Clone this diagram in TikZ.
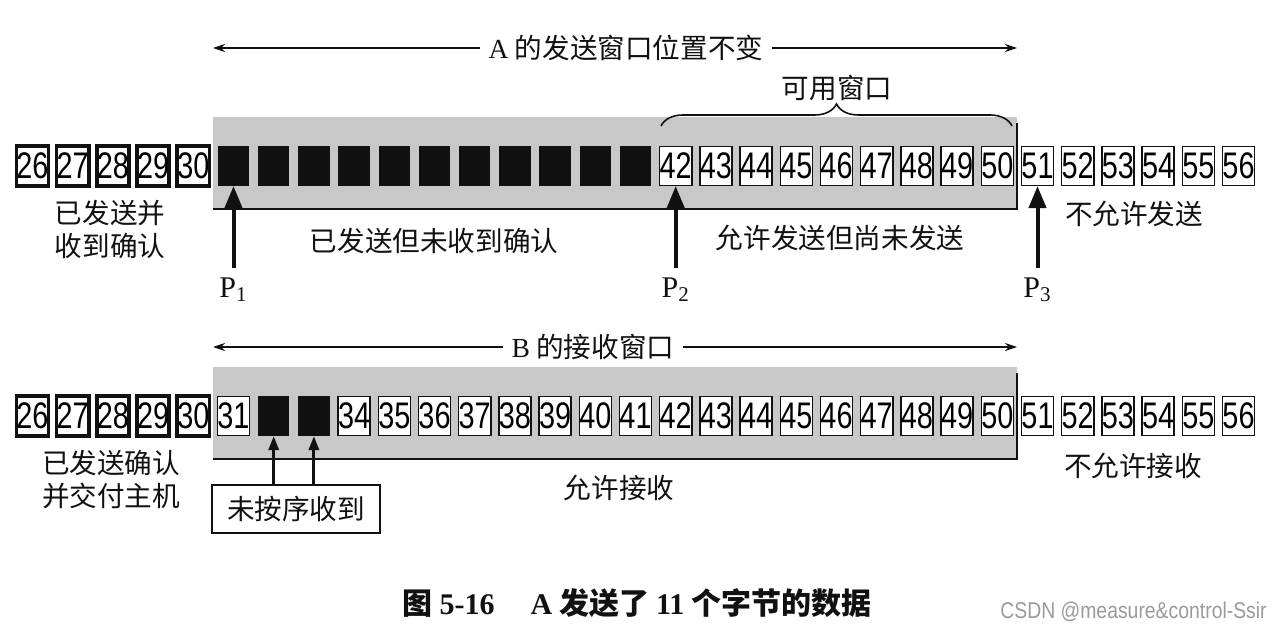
\documentclass[tikz,border=0pt]{standalone}
\usepackage{fontspec}
\setmainfont{Noto Sans CJK SC}
\newfontfamily\numfont[FakeStretch=0.78]{Liberation Sans}
\newfontfamily\serfont{Liberation Serif}
\newfontfamily\markfont[FakeStretch=0.85]{Liberation Sans}
\usetikzlibrary{arrows.meta,positioning,decorations.pathreplacing}
\definecolor{ink}{HTML}{111111}
\definecolor{bandcol}{HTML}{C8C8C8}
\definecolor{markcol}{HTML}{9A9A9A}

\begin{document}
\begin{tikzpicture}[x=0.5pt, y=-0.5pt, >=Stealth,
  cell/.style={draw=ink, fill=white, line width=0.75pt, minimum width=15pt,
    minimum height=19.3pt, inner sep=0pt, font=\numfont\fontsize{18.5}{18.5}\selectfont},
  donecell/.style={cell, line width=1.8pt, minimum width=15.7pt, minimum height=20.2pt},
  sentcell/.style={cell, fill=ink},
  lbl/.style={font=\fontsize{13.8}{16.5}\selectfont, text=ink, align=center, inner sep=0pt},
  ptr/.style={ink, line width=2pt, -{Triangle[length=11pt, width=8.5pt]}},
  smallptr/.style={ink, line width=1.5pt, -{Triangle[length=7pt, width=5pt]}},
  span/.style={ink, line width=0.6pt, -{Stealth[length=6pt, width=4pt]}}]

\useasboundingbox (0,0) rectangle (1280,631);

\def\xo{32.5}
\def\dx{40.2}

% ---- shaded windows -----------------------------------------------------
\fill[bandcol] (213,117) rectangle (1017,209);
\draw[ink, line width=1pt] (213,209) -- (1017,209) -- (1017,123);
\fill[bandcol] (213,367) rectangle (1017,459);
\draw[ink, line width=1pt] (213,459) -- (1017,459) -- (1017,373);

% ---- sender A -----------------------------------------------------------
\foreach \n in {26,...,30}
  \node[donecell] (t\n) at ({\xo+(\n-26)*\dx},166) {\n};
\foreach \n in {31,...,41}
  \node[sentcell] (t\n) at ({\xo+(\n-26)*\dx},166) {};
\foreach \n in {42,...,56}
  \node[cell] (t\n) at ({\xo+(\n-26)*\dx},166) {\n};

\node[lbl, fill=white, inner xsep=4pt] (sendwin) at (626,48)
  {{\serfont A} 的发送窗口位置不变};
\coordinate (swL) at (213,48);
\coordinate (swR) at (1017,48);
\draw[span] (sendwin) -- (swL);
\draw[span] (sendwin) -- (swR);

\draw[ink, line width=0.8pt, decorate, decoration={brace, amplitude=11pt}]
  (661,126) -- (1012,126);
\node[lbl] (avail) at (837,88) {可用窗口};

\node[lbl] (acked) at (110,229) {已发送并\\收到确认};
\node[lbl] (inflight) at (434,241) {已发送但未收到确认};
\node[lbl] (usable) at (840,238) {允许发送但尚未发送};
\node[lbl] (nosend) at (1134,214) {不允许发送};

\node[lbl, font=\fontsize{15}{16}\selectfont] (p1) at ({\xo+5*\dx},290) {\serfont P\textsubscript{1}};
\node[lbl, font=\fontsize{15}{16}\selectfont] (p2) at ({\xo+16*\dx},290) {\serfont P\textsubscript{2}};
\node[lbl, font=\fontsize{15}{16}\selectfont] (p3) at ({\xo+25*\dx},290) {\serfont P\textsubscript{3}};
\draw[ptr, shorten <=5pt] (p1) -- (t31);
\draw[ptr, shorten <=5pt] (p2) -- (t42);
\draw[ptr, shorten <=5pt] (p3) -- (t51);

% ---- receiver B ---------------------------------------------------------
\foreach \n in {26,...,30}
  \node[donecell] (b\n) at ({\xo+(\n-26)*\dx},416) {\n};
\node[cell] (b31) at ({\xo+5*\dx},416) {31};
\foreach \n in {32,33}
  \node[sentcell] (b\n) at ({\xo+(\n-26)*\dx},416) {};
\foreach \n in {34,...,56}
  \node[cell] (b\n) at ({\xo+(\n-26)*\dx},416) {\n};

\node[lbl, fill=white, inner xsep=4pt] (recvwin) at (593,347)
  {{\serfont B} 的接收窗口};
\coordinate (rwL) at (213,347);
\coordinate (rwR) at (1017,347);
\draw[span] (recvwin) -- (rwL);
\draw[span] (recvwin) -- (rwR);

\node[lbl] (deliv) at (111,480) {已发送确认\\并交付主机};
\node[lbl] (accept) at (619,488) {允许接收};
\node[lbl] (norecv) at (1133,466) {不允许接收};

\node[lbl, draw=ink, line width=0.8pt, minimum width=84pt, minimum height=24pt]
  (ooo) at (296,509) {未按序收到};
\draw[smallptr] (ooo.north -| b32) -- (b32.south);
\draw[smallptr] (ooo.north -| b33) -- (b33.south);

% ---- caption ------------------------------------------------------------
\node[lbl, font=\fontsize{15}{16}\selectfont\bfseries] (caption) at (637,603)
  {图 {\serfont 5-16}\hspace{1.2em}{\serfont A} 发送了 {\serfont 11} 个字节的数据};
\node[font=\markfont\fontsize{11.4}{12}\selectfont, text=markcol, anchor=west, inner sep=0pt]
  (mark) at (1000,612) {CSDN @measure\&control-Ssir};

\end{tikzpicture}
\end{document}
